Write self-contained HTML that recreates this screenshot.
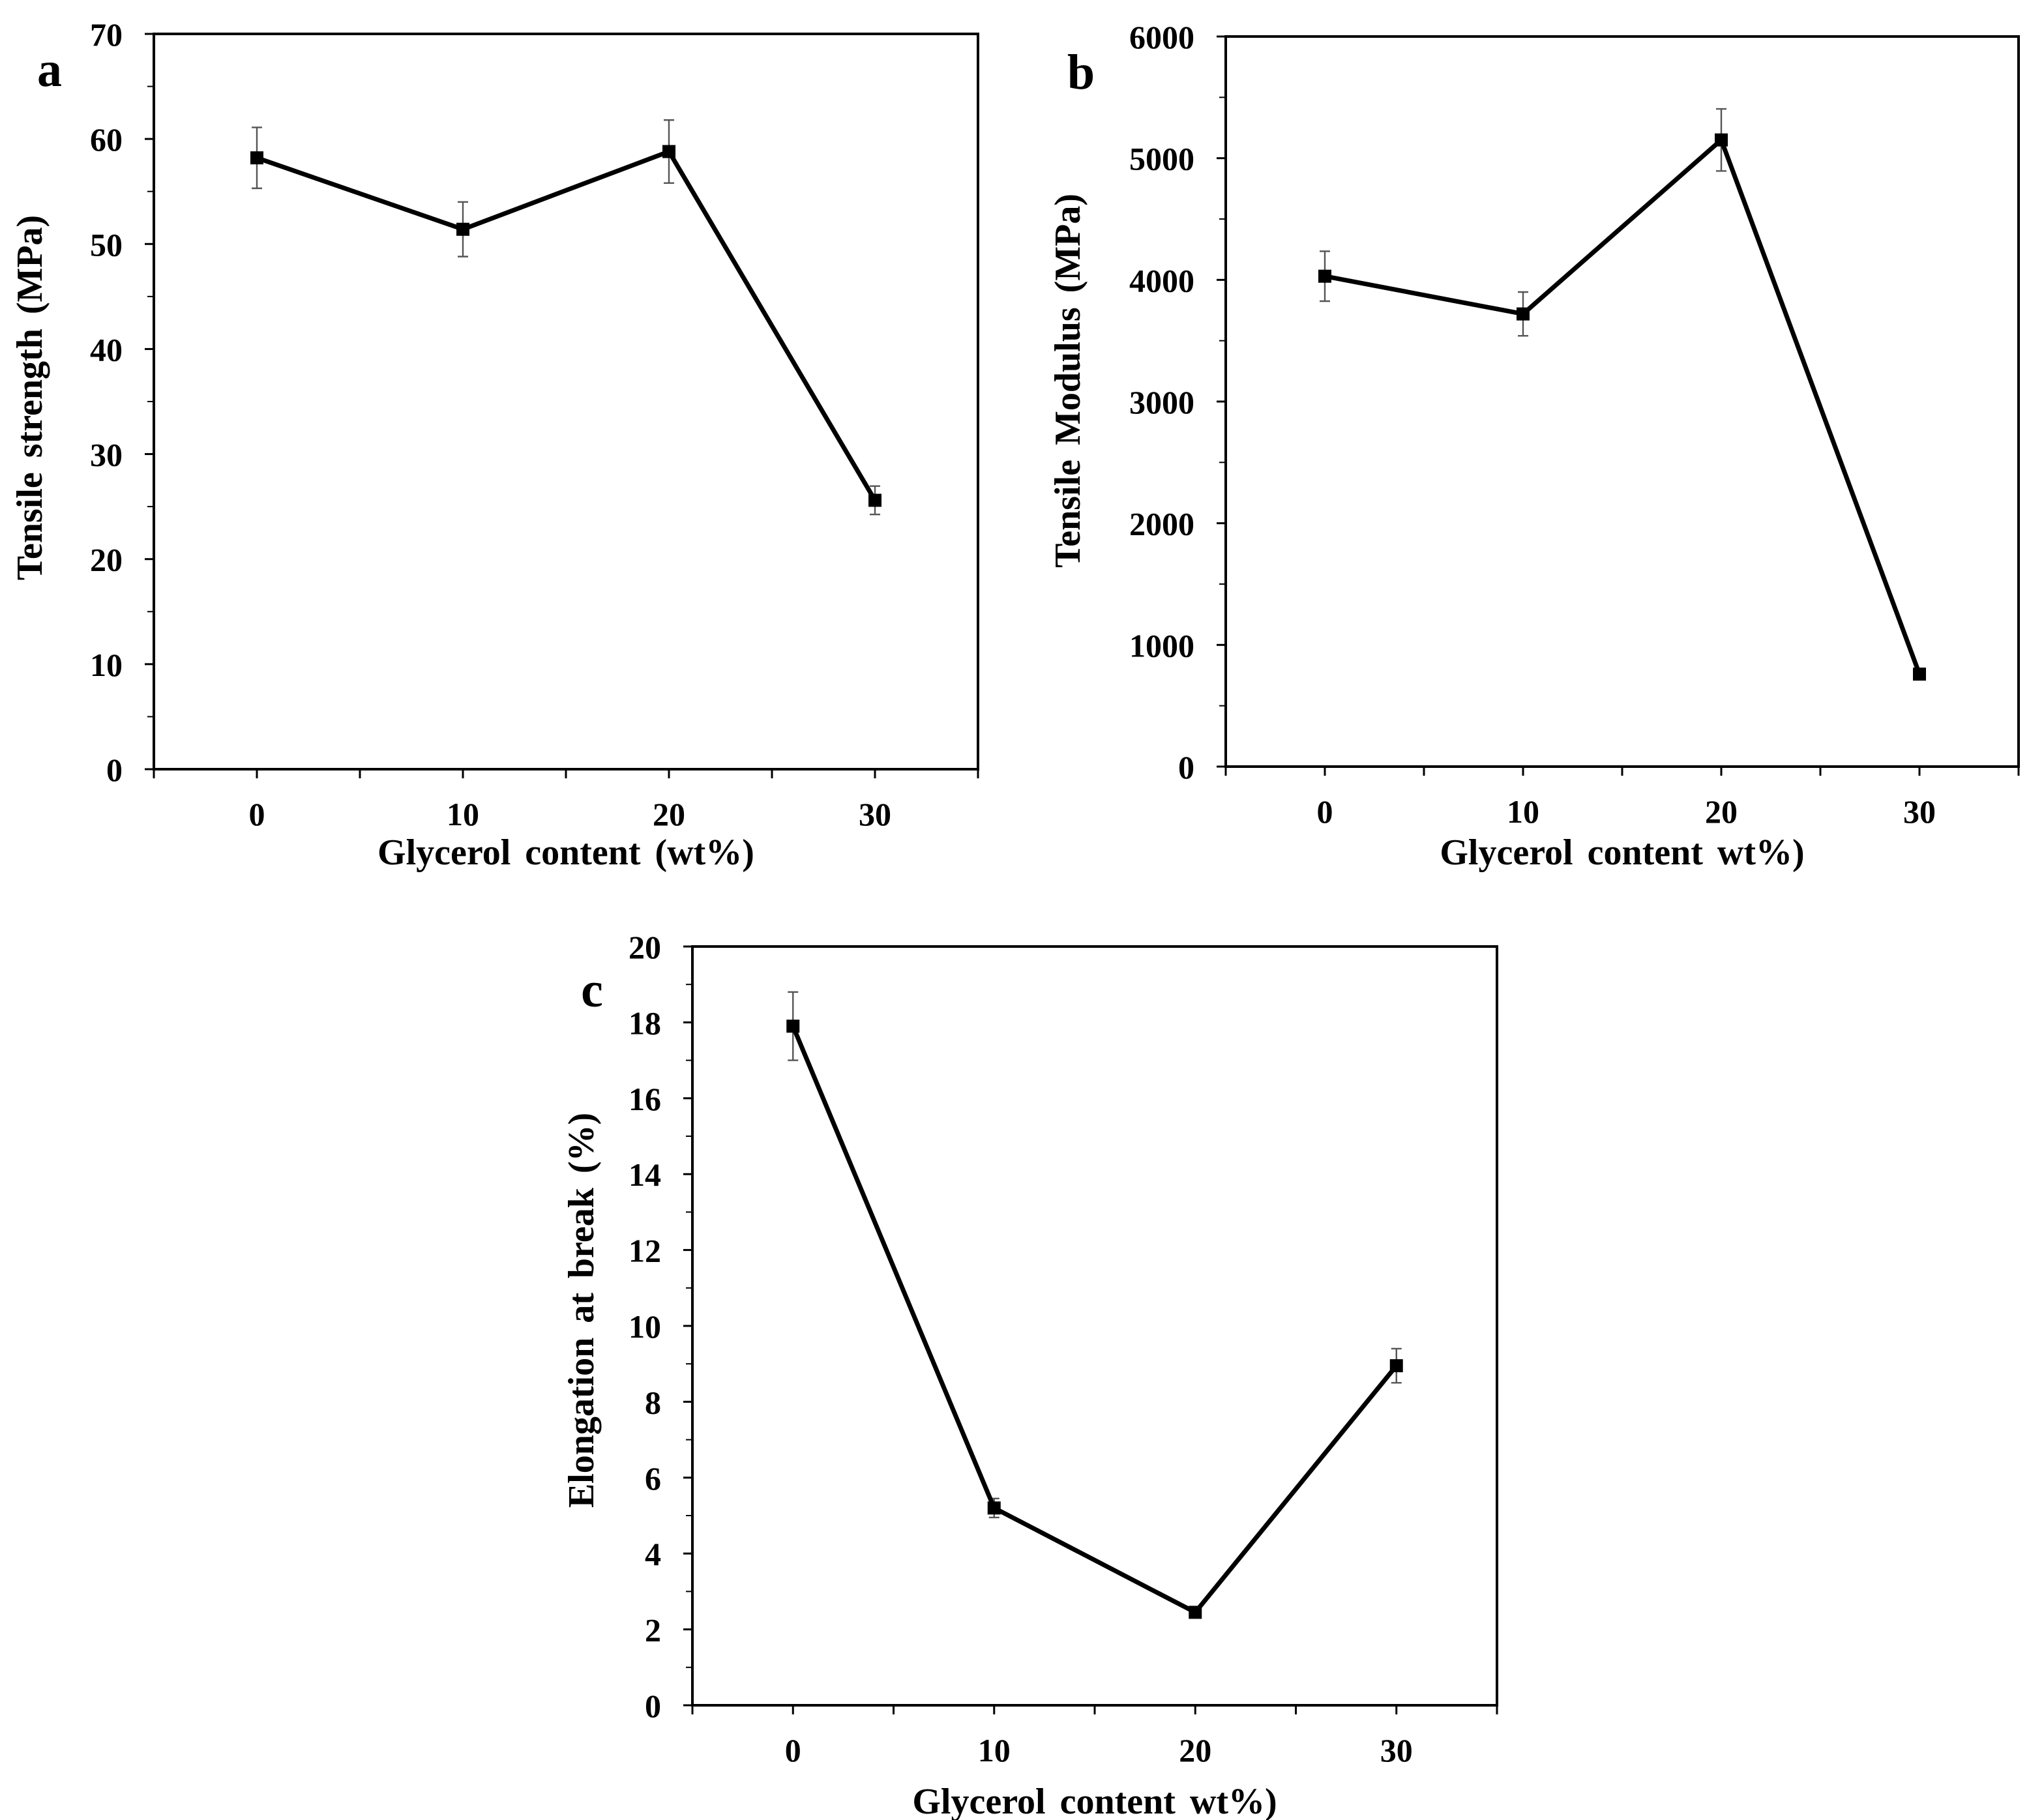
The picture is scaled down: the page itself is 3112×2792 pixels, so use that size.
<!DOCTYPE html>
<html><head><meta charset="utf-8"><style>
html,body{margin:0;padding:0;background:#fff;}
svg{display:block;}
text{font-family:"Liberation Serif",serif;font-weight:bold;fill:#000;}
</style></head><body>
<svg id="fig" width="3112" height="2792" viewBox="0 0 1556 1396" xmlns="http://www.w3.org/2000/svg"></svg>
<script>
const categories = [0, 10, 20, 30];
const tensileStrength = [58.2, 51.4, 58.8, 25.6];
const tensileStrengthErr = [2.9, 2.6, 3.0, 1.35];
const tensileModulus = [4030, 3720, 5150, 760];
const tensileModulusErr = [205, 180, 255, 0];
const elongation = [17.9, 5.2, 2.45, 8.95];
const elongationErr = [0.9, 0.25, 0, 0.45];
const yTicksA = [0, 10, 20, 30, 40, 50, 60, 70];
const yTicksB = [0, 1000, 2000, 3000, 4000, 5000, 6000];
const yTicksC = [0, 2, 4, 6, 8, 10, 12, 14, 16, 18, 20];
const xTicks = [0, 10, 20, 30];

const NS = "http://www.w3.org/2000/svg";
const svg = document.getElementById('fig');
function mk(tag, attrs, parent) {
  const e = document.createElementNS(NS, tag);
  for (const k in attrs) e.setAttribute(k, attrs[k]);
  (parent || svg).appendChild(e);
  return e;
}
function panel(cfg) {
  const g = mk('g', {});
  
  
  const {L, R, T, B, yMax} = cfg;
  const xs = v => L + (v + 5) / 40 * (R - L);
  const ys = v => B - v / yMax * (B - T);
  const frame = mk('rect', {x: L, y: T, width: R - L, height: B - T, fill: 'none', stroke: '#000', 'stroke-width': 2}, g);
  
  
  const step = cfg.yTicks[1] - cfg.yTicks[0];
  for (let i = 0; i < cfg.yTicks.length; i++) {
    const v = cfg.yTicks[i];
    mk('line', {x1: L - 7, x2: L, y1: ys(v), y2: ys(v), stroke: '#000', 'stroke-width': 1.5}, g);
    const t = mk('text', {x: L - 24, y: ys(v) + 9, 'text-anchor': 'end', 'font-size': 25}, g);
    t.textContent = v;
    
    
    if (i < cfg.yTicks.length - 1) mk('line', {x1: L - 5, x2: L, y1: ys(v + step / 2), y2: ys(v + step / 2), stroke: '#000', 'stroke-width': 1}, g);
  }
  for (let v = -5; v <= 35; v += 5) {
    mk('line', {x1: xs(v), x2: xs(v), y1: B, y2: B + 7, stroke: '#000', 'stroke-width': 1.5}, g);
  }
  xTicks.forEach(v => {
    const t = mk('text', {x: xs(v), y: B + 43, 'text-anchor': 'middle', 'font-size': 25}, g);
    t.textContent = v;
    
    
  });
  const xt = mk('text', {x: (L + R) / 2, y: cfg.xTitleY, 'text-anchor': 'middle', 'font-size': 28, 'word-spacing': 4}, g);
  xt.textContent = 'Glycerol content ' + cfg.xUnit;
  
  
  const yt = mk('text', {x: 0, y: 0, 'text-anchor': 'middle', 'font-size': 28, 'word-spacing': 4, transform: `translate(${cfg.yTitleX},${cfg.yTitleY}) rotate(-90)`}, g);
  yt.textContent = cfg.yTitle;
  
  
  const lbl = mk('text', {x: cfg.letterX, y: cfg.letterY, 'text-anchor': 'middle', 'font-size': 38}, g);
  lbl.textContent = cfg.letter;
  
  
  categories.forEach((c, i) => {
    const e = cfg.err[i];
    if (!e) return;
    const x = xs(c);
    const eb = mk('path', {d: `M${x},${ys(cfg.vals[i] + e)}V${ys(cfg.vals[i] - e)}M${x - 4},${ys(cfg.vals[i] + e)}h8M${x - 4},${ys(cfg.vals[i] - e)}h8`, stroke: '#555', 'stroke-width': 1.2, fill: 'none'}, g);
    
    
  });
  const line = mk('polyline', {points: categories.map((c, i) => xs(c) + ',' + ys(cfg.vals[i])).join(' '), fill: 'none', stroke: '#000', 'stroke-width': 3.5, 'stroke-linejoin': 'round'}, g);
  
  
  categories.forEach((c, i) => {
    const m = mk('rect', {x: xs(c) - 5, y: ys(cfg.vals[i]) - 5, width: 10, height: 10, fill: '#000'}, g);
    
    
  });
}
panel({name: 'panel-a-tensile-strength', L: 118, R: 750, T: 26, B: 590, yMax: 70, yTicks: yTicksA, vals: tensileStrength, err: tensileStrengthErr,
  xTitleY: 663, xUnit: '(wt%)', yTitle: 'Tensile strength (MPa)', yTitleX: 32, yTitleY: 305, letter: 'a', letterX: 38, letterY: 66});
panel({name: 'panel-b-tensile-modulus', L: 940, R: 1548, T: 28, B: 588, yMax: 6000, yTicks: yTicksB, vals: tensileModulus, err: tensileModulusErr,
  xTitleY: 663, xUnit: 'wt%)', yTitle: 'Tensile Modulus (MPa)', yTitleX: 828, yTitleY: 292, letter: 'b', letterX: 829, letterY: 68});
panel({name: 'panel-c-elongation', L: 531, R: 1148, T: 726, B: 1308, yMax: 20, yTicks: yTicksC, vals: elongation, err: elongationErr,
  xTitleY: 1391, xUnit: 'wt%)', yTitle: 'Elongation at break (%)', yTitleX: 455, yTitleY: 1005, letter: 'c', letterX: 454, letterY: 772});
</script>
</body></html>
